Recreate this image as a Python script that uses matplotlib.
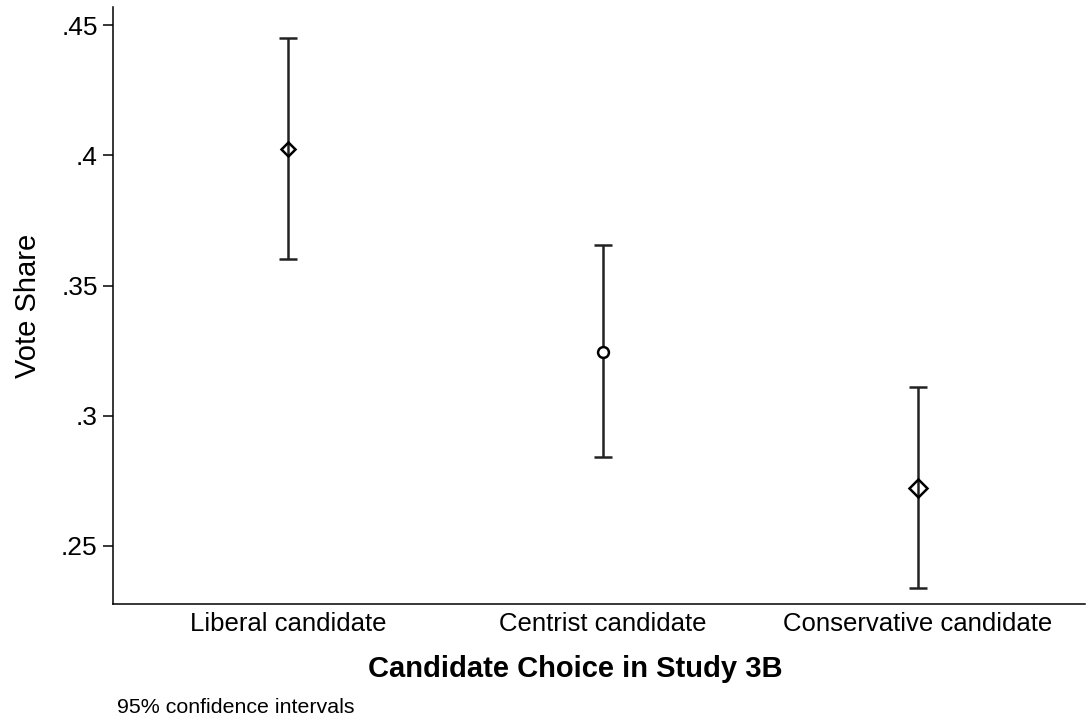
import matplotlib.pyplot as plt

plt.rcParams['font.family'] = ['Liberation Sans', 'DejaVu Sans']

categories = ['Liberal candidate', 'Centrist candidate', 'Conservative candidate']
means = [0.4023, 0.3246, 0.2723]
lower = [0.3600, 0.2842, 0.2338]
upper = [0.4450, 0.3654, 0.3112]
markers = ['D', 'o', 'D']
marker_sizes = [7.2, 7.8, 9.2]
yticks = [0.25, 0.30, 0.35, 0.40, 0.45]
ytick_labels = ['.25', '.3', '.35', '.4', '.45']

fig = plt.figure(figsize=(10.86, 7.19), dpi=100)
ax = fig.add_axes([0.104, 0.160, 0.895, 0.830])

xs = [1, 2, 3]
for x, m, lo, hi, mk, ms in zip(xs, means, lower, upper, markers, marker_sizes):
    ax.errorbar([x], [m], yerr=[[m - lo], [hi - m]], fmt='none',
                ecolor='#222222', elinewidth=1.8, capsize=6.5, capthick=1.8)
    face = 'white' if mk == 'o' else 'none'
    ax.plot([x], [m], marker=mk, markersize=ms, markerfacecolor=face,
            markeredgecolor='black', markeredgewidth=1.8, linestyle='none')

ax.set_xlim(0.444, 3.53)
ax.set_ylim(0.2277, 0.4569)
ax.set_xticks(xs)
ax.set_xticklabels(categories, fontsize=18.5)
ax.set_yticks(yticks)
ax.set_yticklabels(ytick_labels, fontsize=19)
ax.tick_params(axis='x', length=0, pad=6)
ax.tick_params(axis='y', length=7, width=1.1, pad=4)

for side in ['top', 'right']:
    ax.spines[side].set_visible(False)
for side in ['left', 'bottom']:
    ax.spines[side].set_linewidth(1.1)

ax.set_ylabel('Vote Share', fontsize=21, labelpad=14)
ax.set_xlabel('Candidate Choice in Study 3B', fontsize=21, fontweight='bold')
ax.xaxis.set_label_coords(0.476, -0.086)
fig.text(0.108, 0.0085, '95% confidence intervals', fontsize=15.4)

fig.savefig('out.png', dpi=100)
